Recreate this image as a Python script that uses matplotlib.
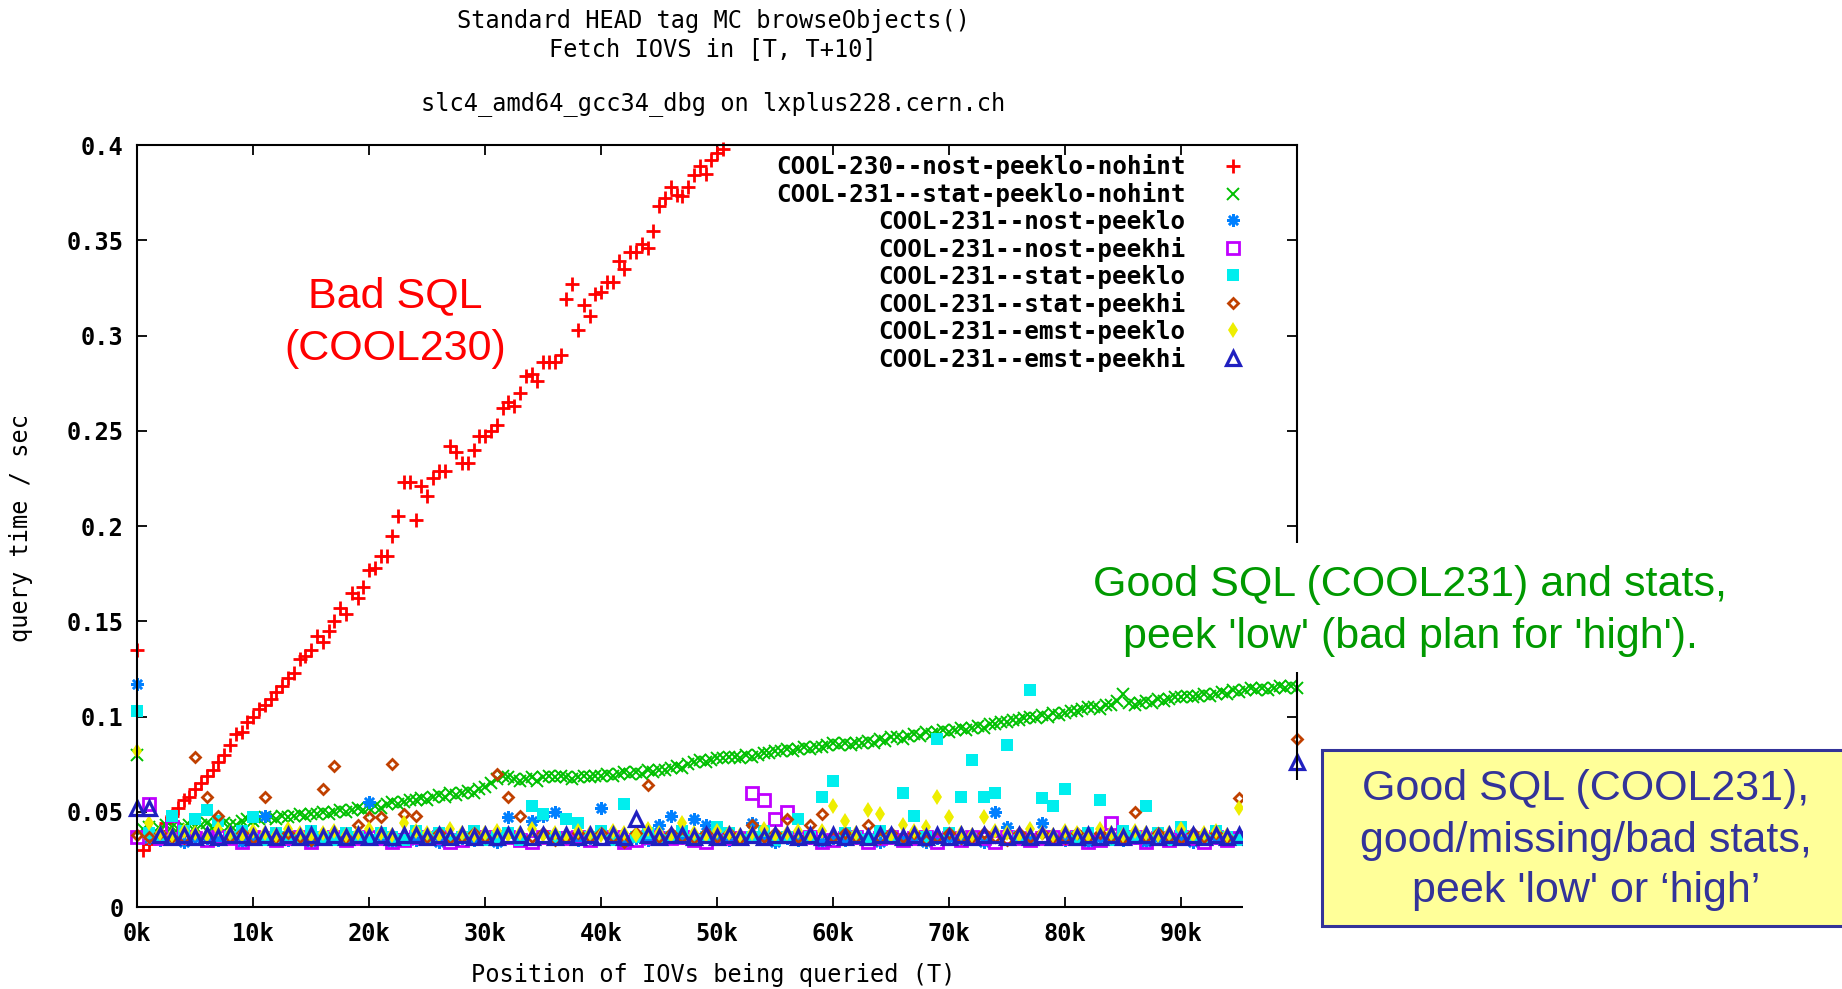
import numpy as np
import matplotlib.pyplot as plt
from matplotlib.patches import Rectangle

plt.rcParams['font.family'] = 'DejaVu Sans Mono'

# query times in ms
# red / green sampled every 500 IOVs, the others every 1000
red_ms = [135, 30, 33, 36, 40, 44, 48, 52, 56, 58, 62, 65, 69, 72, 76, 80, 85, 91, 92, 97,
          100, 104, 106, 109, 113, 116, 120, 123, 130, 132, 135, 142, 139, 145, 150, 157, 154, 165, 162, 168,
          177, 178, 184, 184, 195, 205, 223, 223, 203, 221, 216, 225, 229, 229, 242, 239, 233, 233, 240, 247,
          247, 250, 253, 262, 265, 263, 270, 279, 280, 276, 286, 286, 286, 290, 319, 327, 303, 316, 310, 322,
          323, 328, 328, 339, 335, 344, 344, 348, 346, 355, 368, 372, 378, 374, 373, 378, 384, 389, 385, 392,
          396, 398]

green_ms = [80, 41, 42, 40, 41, 43, 42, 41, 42, 43, 42, 43, 44, 42, 43, 44, 43, 43, 45, 46,
            45, 46, 47, 47, 46, 48, 47, 48, 49, 48, 49, 49, 50, 49, 50, 51, 50, 51, 52, 51,
            52, 53, 52, 54, 55, 54, 55, 56, 56, 57, 56, 58, 59, 58, 60, 59, 60, 61, 60, 62,
            63, 65, 67, 69, 68, 67, 66, 67, 68, 66, 68, 69, 68, 69, 68, 67, 68, 69, 68, 69,
            69, 70, 69, 70, 71, 70, 71, 70, 72, 71, 72, 72, 73, 74, 73, 75, 76, 77, 76, 77,
            78, 78, 79, 79, 78, 80, 79, 80, 81, 81, 82, 82, 83, 82, 83, 84, 83, 84, 84, 85,
            86, 85, 86, 85, 86, 86, 87, 86, 88, 87, 89, 89, 88, 90, 91, 90, 92, 91, 92, 93,
            92, 93, 94, 93, 94, 95, 94, 96, 96, 97, 97, 98, 98, 99, 100, 99, 101, 100, 102, 101,
            102, 103, 103, 104, 105, 105, 104, 106, 106, 108, 112, 107, 106, 107, 108, 107, 109, 108, 109, 110,
            110, 111, 110, 111, 112, 111, 112, 113, 112, 114, 113, 114, 115, 114, 115, 114, 115, 116, 115, 116,
            115]

blue_ms = [117, 36, 35, 36, 34, 36, 36, 35, 36, 34, 36, 48, 36, 35, 36, 34, 36, 36, 35, 36,
           55, 36, 34, 36, 35, 36, 34, 36, 36, 35, 36, 34, 47, 36, 45, 48, 50, 36, 35, 36,
           52, 36, 34, 36, 35, 43, 48, 36, 46, 43, 36, 35, 36, 44, 36, 34, 36, 35, 36, 34,
           36, 35, 36, 36, 34, 36, 35, 36, 34, 36, 36, 35, 36, 34, 50, 42, 36, 35, 44, 36,
           35, 36, 34, 36, 36, 35, 36, 34, 36, 35, 36, 34, 36, 36, 35, 36, 34, 36, 35, 36,
           36]

magenta_ms = [37, 54, 36, 42, 37, 36, 35, 37, 36, 34, 37, 36, 35, 36, 37, 34, 36, 37, 35, 36,
              37, 36, 34, 35, 37, 36, 37, 34, 35, 36, 37, 36, 37, 35, 34, 37, 36, 36, 37, 35,
              36, 37, 34, 35, 37, 36, 36, 37, 35, 34, 37, 36, 36, 60, 56, 46, 50, 36, 37, 34,
              35, 36, 37, 34, 36, 37, 35, 36, 37, 34, 36, 35, 37, 36, 34, 37, 36, 35, 36, 37,
              36, 37, 34, 35, 44, 36, 37, 34, 36, 35, 37, 36, 34, 37, 35, 36, 37, 34, 36, 37,
              36]

cyan_ms = [103, 39, 37, 48, 40, 46, 51, 45, 37, 40, 47, 35, 39, 37, 35, 40, 37, 35, 39, 37,
           35, 39, 37, 35, 40, 37, 39, 35, 37, 40, 35, 37, 39, 35, 53, 49, 37, 46, 44, 37,
           40, 35, 54, 37, 39, 35, 37, 40, 35, 37, 42, 39, 35, 37, 40, 35, 37, 46, 37, 58,
           66, 39, 37, 35, 40, 37, 60, 48, 37, 88, 39, 58, 77, 58, 60, 85, 37, 114, 57, 53,
           62, 37, 39, 56, 35, 40, 37, 53, 39, 35, 42, 37, 35, 40, 37, 35, 39, 37, 35, 40,
           37]

brown_ms = [38, 37, 39, 37, 36, 79, 58, 48, 37, 39, 36, 58, 37, 39, 37, 35, 62, 74, 37, 43,
            47, 47, 75, 49, 48, 37, 39, 36, 37, 39, 37, 70, 58, 48, 37, 39, 35, 37, 39, 37,
            39, 37, 34, 39, 64, 37, 39, 37, 36, 39, 37, 39, 36, 43, 37, 39, 46, 37, 43, 49,
            37, 39, 37, 43, 36, 39, 37, 39, 35, 37, 39, 36, 37, 39, 37, 35, 39, 37, 39, 37,
            36, 39, 37, 39, 37, 36, 50, 37, 39, 37, 36, 39, 37, 39, 37, 57, 39, 37, 36, 39,
            88]

yellow_ms = [82, 44, 39, 38, 40, 39, 38, 41, 39, 38, 40, 39, 38, 41, 39, 38, 39, 40, 38, 39,
             41, 39, 38, 44, 40, 39, 38, 41, 39, 38, 39, 40, 38, 39, 41, 38, 39, 38, 40, 39,
             38, 40, 39, 38, 41, 39, 38, 44, 39, 38, 40, 39, 38, 39, 41, 38, 39, 40, 38, 40,
             53, 45, 39, 51, 49, 38, 43, 40, 42, 58, 47, 39, 38, 47, 40, 39, 38, 41, 39, 38,
             40, 39, 38, 41, 39, 38, 40, 39, 38, 39, 41, 38, 39, 40, 38, 52, 39, 40, 38, 39,
             40]

navy_ms = [52, 52, 38, 37, 38, 37, 38, 37, 38, 38, 37, 38, 37, 38, 37, 38, 37, 38, 37, 38,
           37, 38, 37, 38, 38, 37, 38, 37, 38, 37, 38, 37, 38, 38, 37, 38, 37, 38, 37, 38,
           37, 38, 37, 46, 38, 37, 38, 38, 37, 38, 37, 38, 37, 38, 37, 38, 38, 37, 38, 37,
           38, 37, 38, 37, 38, 38, 37, 38, 37, 38, 37, 38, 37, 38, 38, 37, 38, 37, 38, 37,
           38, 37, 38, 37, 38, 37, 38, 38, 37, 38, 37, 38, 37, 38, 37, 38, 37, 38, 38, 37,
           76]

labels = ['COOL-230--nost-peeklo-nohint', 'COOL-231--stat-peeklo-nohint',
          'COOL-231--nost-peeklo', 'COOL-231--nost-peekhi',
          'COOL-231--stat-peeklo', 'COOL-231--stat-peekhi',
          'COOL-231--emst-peeklo', 'COOL-231--emst-peekhi']
xtick_vals = [0, 10000, 20000, 30000, 40000, 50000, 60000, 70000, 80000, 90000, 100000]
xtick_labels = ['0k', '10k', '20k', '30k', '40k', '50k', '60k', '70k', '80k', '90k', '100k']
ytick_vals = [0, 0.05, 0.1, 0.15, 0.2, 0.25, 0.3, 0.35, 0.4]
ytick_labels = ['0', '0.05', '0.1', '0.15', '0.2', '0.25', '0.3', '0.35', '0.4']

# (values, step, marker, colour, size, edge width, filled)
styles = [
    (red_ms, 500, '+', '#ff0000', 10, 2.0, True),
    (green_ms, 500, 'x', '#00c000', 8, 1.4, True),
    (blue_ms, 1000, (8, 2, 0), '#0080ff', 9, 1.8, True),
    (magenta_ms, 1000, 's', '#c000ff', 8, 2.0, False),
    (cyan_ms, 1000, 's', '#00eeee', 9, 0, True),
    (brown_ms, 1000, 'D', '#c04000', 5.5, 2.0, False),
    (yellow_ms, 1000, 'd', '#eeee00', 8.5, 0, True),
    (navy_ms, 1000, '^', '#2020c0', 10, 2.3, False),
]

fig = plt.figure(figsize=(18.42, 9.89), dpi=100)
ax = fig.add_axes([0.07454, 0.08291, 0.62958, 0.77047])

for lab, (vals, step, mk, col, ms, mew, filled) in zip(labels, styles):
    t = np.arange(len(vals)) * step
    ax.plot(t, np.array(vals) / 1000.0, ls='none', marker=mk, color=col,
            mfc=col if filled else 'none', ms=ms, mew=mew, clip_on=False, label=lab)

ax.set_xlim(0, 100000)
ax.set_ylim(0, 0.4)
ax.set_xticks(xtick_vals)
ax.set_xticklabels(xtick_labels, fontweight='bold', fontsize=17)
ax.set_yticks(ytick_vals)
ax.set_yticklabels(ytick_labels, fontweight='bold', fontsize=17)
ax.tick_params(direction='in', top=True, right=True, length=7, width=1.3)
ax.tick_params(axis='x', pad=11)
ax.tick_params(axis='y', pad=10)
for s in ax.spines.values():
    s.set_linewidth(1.5)

leg = ax.legend(loc='upper right', bbox_to_anchor=(0.955, 0.988), markerfirst=False,
                frameon=False, prop=dict(family='DejaVu Sans Mono', weight='bold', size=17.5),
                handlelength=1.0, handletextpad=1.45, labelspacing=0.12,
                borderpad=0, borderaxespad=0, numpoints=1)

W, H = 1842.0, 989.0
fig.text(713 / W, 1 - 21 / H, 'Standard HEAD tag MC browseObjects()', ha='center', va='center', fontsize=17)
fig.text(713 / W, 1 - 49 / H, 'Fetch IOVS in [T, T+10]', ha='center', va='center', fontsize=17)
fig.text(713 / W, 1 - 104 / H, 'slc4_amd64_gcc34_dbg on lxplus228.cern.ch', ha='center', va='center', fontsize=17)
fig.text(713 / W, 1 - 975 / H, 'Position of IOVs being queried (T)', ha='center', va='center', fontsize=17)
fig.text(21 / W, 1 - 528 / H, 'query time / sec', ha='center', va='center', rotation=90, fontsize=17)

# white cut-outs from the slide
fig.add_artist(Rectangle((1243 / W, 0), 1, 1 - 780 / H, transform=fig.transFigure,
                         fc='white', ec='none', zorder=2))
fig.add_artist(Rectangle((1087 / W, 1 - 672 / H), (1739 - 1087) / W, (672 - 543) / H,
                         transform=fig.transFigure, fc='white', ec='none', zorder=2))

ann = dict(family='Liberation Sans', fontsize=31, ha='center', va='center', zorder=5)
fig.text(395 / W, 1 - 296 / H, 'Bad SQL', color='#ff0000', **ann)
fig.text(395 / W, 1 - 349 / H, '(COOL230)', color='#ff0000', **ann)
fig.text(1410 / W, 1 - 585 / H, 'Good SQL (COOL231) and stats,', color='#009900', **ann)
fig.text(1410 / W, 1 - 637 / H, "peek 'low' (bad plan for 'high').", color='#009900', **ann)

fig.add_artist(Rectangle((1321.5 / W, 1 - 925.6 / H), 0.3, (925.6 - 749.5) / H,
                         transform=fig.transFigure, fc='#ffff99', ec='#333399', lw=2.2, zorder=4))
fig.text(1586 / W, 1 - 789 / H, 'Good SQL (COOL231),', color='#333399', **ann)
fig.text(1586 / W, 1 - 841 / H, 'good/missing/bad stats,', color='#333399', **ann)
fig.text(1586 / W, 1 - 891 / H, "peek 'low' or \u2018high\u2019", color='#333399', **ann)

fig.savefig('out.png', dpi=100)
